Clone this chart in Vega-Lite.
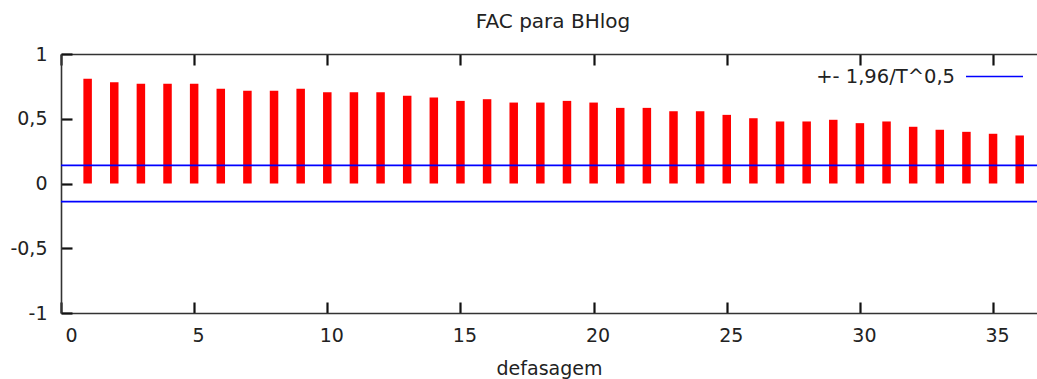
{
  "$schema": "https://vega.github.io/schema/vega-lite/v6.json",
  "width": 976,
  "height": 259,
  "autosize": {"type": "none"},
  "padding": {"left": 61, "top": 54, "right": 0, "bottom": 66},
  "title": {"text": "FAC para BHlog", "fontSize": 20, "font": "DejaVu Sans", "fontWeight": "normal", "color": "#222", "offset": 13, "dx": 4},
  "config": {
    "view": {"stroke": null},
    "font": "DejaVu Sans",
    "locale": {"number": {"decimal": ",", "thousands": ".", "grouping": [3], "currency": ["", ""], "minus": "-"}},
    "axis": {
      "grid": false,
      "domainColor": "#333",
      "domainWidth": 1.6,
      "tickColor": "#111",
      "tickWidth": 2.2,
      "tickSize": -11,
      "tickOpacity": 1,
      "labelFont": "DejaVu Sans",
      "labelFontSize": 19,
      "labelColor": "#222",
      "titleFont": "DejaVu Sans",
      "titleFontSize": 19,
      "titleFontWeight": "normal",
      "titleColor": "#222"
    }
  },
  "datasets": {
    "acf": [
      {"lag": 1, "acf": 0.808}, {"lag": 2, "acf": 0.782}, {"lag": 3, "acf": 0.77}, {"lag": 4, "acf": 0.77},
      {"lag": 5, "acf": 0.77}, {"lag": 6, "acf": 0.731}, {"lag": 7, "acf": 0.716}, {"lag": 8, "acf": 0.716},
      {"lag": 9, "acf": 0.731}, {"lag": 10, "acf": 0.705}, {"lag": 11, "acf": 0.705}, {"lag": 12, "acf": 0.705},
      {"lag": 13, "acf": 0.677}, {"lag": 14, "acf": 0.664}, {"lag": 15, "acf": 0.638}, {"lag": 16, "acf": 0.651},
      {"lag": 17, "acf": 0.625}, {"lag": 18, "acf": 0.625}, {"lag": 19, "acf": 0.638}, {"lag": 20, "acf": 0.625},
      {"lag": 21, "acf": 0.584}, {"lag": 22, "acf": 0.584}, {"lag": 23, "acf": 0.558}, {"lag": 24, "acf": 0.558},
      {"lag": 25, "acf": 0.53}, {"lag": 26, "acf": 0.504}, {"lag": 27, "acf": 0.479}, {"lag": 28, "acf": 0.479},
      {"lag": 29, "acf": 0.492}, {"lag": 30, "acf": 0.466}, {"lag": 31, "acf": 0.479}, {"lag": 32, "acf": 0.438},
      {"lag": 33, "acf": 0.415}, {"lag": 34, "acf": 0.399}, {"lag": 35, "acf": 0.384}, {"lag": 36, "acf": 0.371}
    ],
    "band": [
      {"bound": 0.14, "serie": "+- 1,96/T^0,5"},
      {"bound": -0.14, "serie": "+- 1,96/T^0,5"}
    ]
  },
  "resolve": {"axis": {"x": "independent"}},
  "layer": [
    {
      "mark": {"type": "rule", "color": "#999", "strokeDash": [1.5, 3.5], "strokeWidth": 1.3},
      "encoding": {"y": {"datum": 0, "type": "quantitative", "scale": {"domain": [-1, 1], "nice": false, "zero": false, "padding": 0}, "axis": {"values": [-1, -0.5, 0, 0.5, 1], "format": "~g", "title": null, "labelPadding": 25}}}
    },
    {
      "data": {"name": "acf"},
      "mark": {"type": "bar", "color": "#ff0000", "width": 8.5},
      "encoding": {
        "x": {"field": "lag", "type": "quantitative", "scale": {"domain": [0, 36.65], "nice": false, "zero": false, "padding": 0},
              "axis": {"orient": "bottom", "values": [0, 5, 10, 15, 20, 25, 30, 35], "title": "defasagem", "labelPadding": 24, "labelOffset": 4, "titlePadding": 14}},
        "y": {"field": "acf", "type": "quantitative"}
      }
    },
    {
      "data": {"name": "acf"},
      "mark": {"type": "point", "opacity": 0},
      "encoding": {
        "x": {"field": "lag", "type": "quantitative", "axis": {"orient": "top", "values": [0, 5, 10, 15, 20, 25, 30, 35], "labels": false, "title": null}},
        "y": {"field": "acf", "type": "quantitative"}
      }
    },
    {
      "data": {"name": "band"},
      "mark": {"type": "rule", "strokeWidth": 1.6},
      "encoding": {
        "y": {"field": "bound", "type": "quantitative"},
        "color": {"field": "serie", "type": "nominal", "scale": {"range": ["#0000ff"]},
                  "legend": {"orient": "none", "legendX": 904, "legendY": -7, "padding": 0, "title": null,
                             "symbolType": "stroke", "symbolSize": 3249, "symbolStrokeWidth": 1.6,
                             "labelFontSize": 19.5, "labelFont": "DejaVu Sans", "labelColor": "#222",
                             "labelAlign": "right", "labelOffset": -69}}
      }
    }
  ]
}
